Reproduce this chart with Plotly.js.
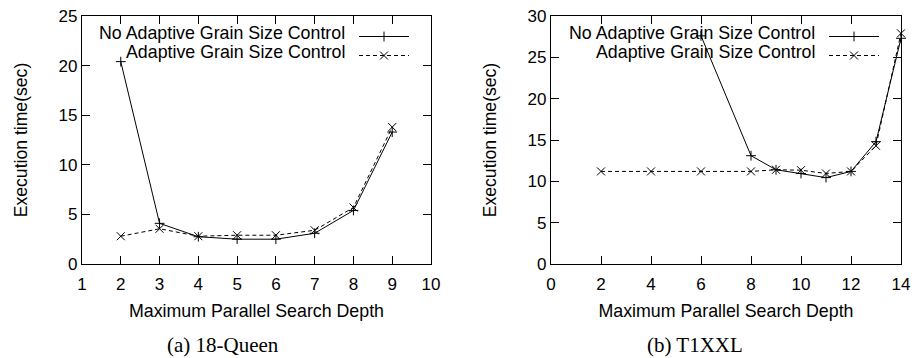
<!DOCTYPE html>
<html>
<head>
<meta charset="utf-8">
<script src="https://cdn.plot.ly/plotly-3.0.1.min.js"></script>
<style>html,body{margin:0;padding:0;background:#fff}#chart{width:914px;height:358px}</style>
</head>
<body>
<div id="chart"></div>
<script>
// ---- data ----
const seriesNames = ["No Adaptive Grain Size Control", "Adaptive Grain Size Control"];
const captions = ["(a) 18-Queen", "(b) T1XXL"];
const xTitle = "Maximum Parallel Search Depth";
const yTitle = "Execution time(sec)";

// (a) 18-Queen
const depthQueen = [2, 3, 4, 5, 6, 7, 8, 9];
const noAdaptQueen = [20.4, 4.1, 2.75, 2.5, 2.5, 3.1, 5.4, 13.3];
const adaptQueen = [2.8, 3.55, 2.8, 2.9, 2.9, 3.4, 5.7, 13.8];

// (b) T1XXL
const depthNoAdaptT1 = [6, 8, 9, 10, 11, 12, 13, 14];
const noAdaptT1 = [27.6, 13.1, 11.4, 10.95, 10.45, 11.2, 14.8, 27.3];
const depthAdaptT1 = [2, 4, 6, 8, 9, 10, 11, 12, 13, 14];
const adaptT1 = [11.2, 11.2, 11.2, 11.2, 11.4, 11.35, 10.95, 11.2, 14.3, 27.9];

const xTicksQueen = [1, 2, 3, 4, 5, 6, 7, 8, 9, 10];
const yTicksQueen = [0, 5, 10, 15, 20, 25];
const xTicksT1 = [0, 2, 4, 6, 8, 10, 12, 14];
const yTicksT1 = [0, 5, 10, 15, 20, 25, 30];
const gridQueen = [5, 10, 15, 20];
const gridT1 = [5, 10, 15, 20];

// ---- styles ----
const FONT = "Liberation Sans, Arial, Helvetica, sans-serif";
const solid = {color: "#000", width: 1};
const dashed = {color: "#000", width: 1, dash: "4px,3px"};
const plusMarker = {symbol: "cross-thin-open", size: 7, color: "#000", line: {color: "#000", width: 1}};
const xMarker = {symbol: "x-thin-open", size: 8, color: "#000", line: {color: "#000", width: 1}};

function trace(x, y, line, marker, xa, ya, leg) {
  return {x: x, y: y, type: "scatter", mode: "lines+markers", line: line, marker: marker,
          xaxis: xa, yaxis: ya, name: "", legend: leg, cliponaxis: false, hoverinfo: "x+y"};
}

const data = [
  trace(depthQueen, noAdaptQueen, solid, plusMarker, "x", "y", "legend"),
  trace(depthQueen, adaptQueen, dashed, xMarker, "x", "y", "legend"),
  trace(depthNoAdaptT1, noAdaptT1, solid, plusMarker, "x2", "y2", "legend2"),
  trace(depthAdaptT1, adaptT1, dashed, xMarker, "x2", "y2", "legend2")
];

const W = 914, H = 358;
const plotTop = 1 - 16 / H, plotBot = 1 - 264 / H;

function xAxis(domain, range, ticks, anchor) {
  return {domain: domain, range: range, tickvals: ticks, anchor: anchor,
    showline: true, linecolor: "#000", linewidth: 1.2, mirror: "ticks",
    ticks: "inside", ticklen: 8, tickcolor: "#000", tickwidth: 1,
    showgrid: false, zeroline: false, ticklabelstandoff: 4,
    tickfont: {family: FONT, size: 17, color: "#000"},
    title: {text: xTitle, font: {family: FONT, size: 17.8, color: "#000"}, standoff: 12}};
}
function yAxis(range, ticks, anchor) {
  return {domain: [plotBot, plotTop], range: range, tickvals: ticks, anchor: anchor,
    showline: true, linecolor: "#000", linewidth: 1.2, mirror: "ticks",
    ticks: "inside", ticklen: 8, tickcolor: "#000", tickwidth: 1,
    showgrid: false, zeroline: false,
    tickfont: {family: FONT, size: 17, color: "#000"},
    title: {text: yTitle, font: {family: FONT, size: 17.6, color: "#000"}, standoff: 26}};
}
function gridAxis(range, vals, over, anchor) {
  return {domain: [plotBot, plotTop], range: range, tickvals: vals, overlaying: over, anchor: anchor,
    showticklabels: false, ticks: "", showline: false, zeroline: false,
    showgrid: true, gridcolor: "#555", griddash: "dot", gridwidth: 1};
}

const dom1 = [82 / W, 431 / W], dom2 = [551 / W, 901 / W];

const legendBase = {xanchor: "left", yanchor: "top", bgcolor: "rgba(0,0,0,0)", borderwidth: 0,
  font: {family: FONT, size: 12, color: "#000"}, itemwidth: 50, tracegroupgap: 0, itemclick: false, itemdoubleclick: false};

const annFont = {family: FONT, size: 17.8, color: "#000"};
const capFont = {family: "Liberation Serif, Times New Roman, serif", size: 21, color: "#000"};

const layout = {
  width: W, height: H,
  margin: {l: 0, r: 0, t: 0, b: 0, autoexpand: false},
  paper_bgcolor: "#fff", plot_bgcolor: "#fff",
  showlegend: true,
  xaxis: xAxis(dom1, [1, 10], xTicksQueen, "y"),
  yaxis: yAxis([0, 25], yTicksQueen, "x"),
  xaxis2: xAxis(dom2, [0, 14], xTicksT1, "y2"),
  yaxis2: yAxis([0, 30], yTicksT1, "x2"),
  yaxis3: gridAxis([0, 25], gridQueen, "y", "x"),
  yaxis4: gridAxis([0, 30], gridT1, "y2", "x2"),
  legend: Object.assign({x: 354 / W, y: 1 - 22 / H}, legendBase),
  legend2: Object.assign({x: 824 / W, y: 1 - 22 / H}, legendBase),
  annotations: [
    {text: seriesNames[0], xref: "paper", yref: "paper", x: 347 / W, y: 1 - 33 / H, xanchor: "right", yanchor: "middle", showarrow: false, font: annFont},
    {text: seriesNames[1], xref: "paper", yref: "paper", x: 347 / W, y: 1 - 52 / H, xanchor: "right", yanchor: "middle", showarrow: false, font: annFont},
    {text: seriesNames[0], xref: "paper", yref: "paper", x: 817 / W, y: 1 - 33 / H, xanchor: "right", yanchor: "middle", showarrow: false, font: annFont},
    {text: seriesNames[1], xref: "paper", yref: "paper", x: 817 / W, y: 1 - 52 / H, xanchor: "right", yanchor: "middle", showarrow: false, font: annFont},
    {text: captions[0], xref: "paper", yref: "paper", x: 223 / W, y: 1 - 345 / H, xanchor: "center", yanchor: "middle", showarrow: false, font: capFont},
    {text: captions[1], xref: "paper", yref: "paper", x: 695 / W, y: 1 - 345 / H, xanchor: "center", yanchor: "middle", showarrow: false, font: capFont}
  ]
};

Plotly.newPlot("chart", data, layout, {displayModeBar: false, staticPlot: true});
</script>
</body>
</html>
